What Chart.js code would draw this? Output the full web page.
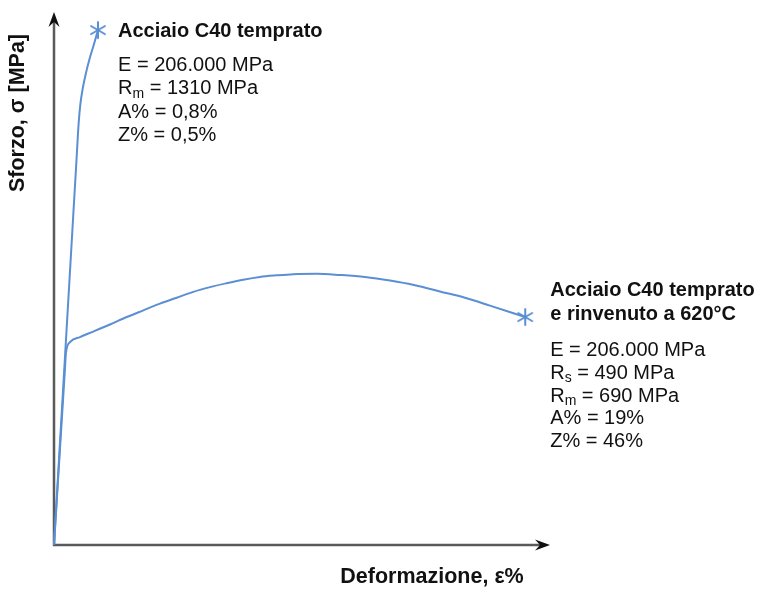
<!DOCTYPE html>
<html>
<head>
<meta charset="utf-8">
<script src="https://cdn.jsdelivr.net/npm/chart.js@4/dist/chart.umd.min.js"></script>
<style>
  html, body { margin: 0; padding: 0; background: #fff; }
  #c { display: block; }
</style>
</head>
<body>
<canvas id="c" width="761" height="589"></canvas>
<script>
// Stress-strain curves of C40 steel (schematic): strain in %, stress in MPa
const quenchedStrain = [0, 0.76, 0.9, 0.994, 1.068, 1.16, 1.282, 1.435, 1.593, 1.774];
const quenchedStress = [0, 821, 972, 1073, 1124, 1162, 1199, 1237, 1270, 1310];

const temperedStrain = [0, 0.44, 0.484, 0.645, 1.048, 1.585, 2.258, 2.931, 3.601, 4.274, 4.948, 5.617, 6.29, 6.964, 7.633, 8.306, 8.98, 9.649, 10.6, 11.53, 12.54, 13.55, 14.56, 15.56, 16.57, 17.58, 19];
const temperedStress = [0, 446, 490, 516, 529, 543, 561, 580, 597, 614, 629, 644, 656, 666, 675, 682, 686, 689, 690, 687, 682, 673, 661, 645, 629, 609, 580];

const quenchedTitle = ['Acciaio C40 temprato'];
const quenchedProps = [
  [['E = 206.000 MPa', '']],
  [['R', ''], ['m', 'sub'], [' = 1310 MPa', '']],
  [['A% = 0,8%', '']],
  [['Z% = 0,5%', '']]
];
const temperedTitle = ['Acciaio C40 temprato', 'e rinvenuto a 620°C'];
const temperedProps = [
  [['E = 206.000 MPa', '']],
  [['R', ''], ['s', 'sub'], [' = 490 MPa', '']],
  [['R', ''], ['m', 'sub'], [' = 690 MPa', '']],
  [['A% = 19%', '']],
  [['Z% = 46%', '']]
];
const xTitle = 'Deformazione, ε%';
const yTitle = 'Sforzo, σ [MPa]';

const BLUE = 'rgb(91,143,212)';
const FONT = '"Liberation Sans", Arial, Helvetica, sans-serif';

// six-spoke asterisk marker for the rupture points
function makeAsterisk(r, color) {
  const size = Math.ceil(r * 2 + 4);
  const cv = document.createElement('canvas');
  cv.width = size; cv.height = size;
  const g = cv.getContext('2d');
  g.strokeStyle = color; g.lineWidth = 2; g.lineCap = 'round';
  const c = size / 2;
  for (let k = 0; k < 3; k++) {
    const a = Math.PI / 2 + k * Math.PI / 3;
    g.beginPath();
    g.moveTo(c - r * Math.cos(a), c - r * Math.sin(a));
    g.lineTo(c + r * Math.cos(a), c + r * Math.sin(a));
    g.stroke();
  }
  return cv;
}
const star = makeAsterisk(8, BLUE);

function toPoints(xs, ys) { return xs.map((x, i) => ({ x: x, y: ys[i] })); }
function lastOnly(n) { return ctx => (ctx.dataIndex === n - 1 ? 10 : 0); }

function drawRich(ctx, parts, x, y) {
  let cx = x;
  parts.forEach(([txt, kind]) => {
    if (kind === 'sub') {
      ctx.font = '14px ' + FONT;
      ctx.fillText(txt, cx, y + 5);
    } else {
      ctx.font = '20px ' + FONT;
      ctx.fillText(txt, cx, y);
    }
    cx += ctx.measureText(txt).width;
  });
}

function arrow(ctx, x0, y0, x1, y1) {
  const ang = Math.atan2(y1 - y0, x1 - x0);
  const L = 15, W = 5.5, N = 10;
  const bx = x1 - N * Math.cos(ang), by = y1 - N * Math.sin(ang);
  ctx.save();
  ctx.strokeStyle = '#5a5a5a';
  ctx.lineWidth = 2.5;
  ctx.beginPath();
  ctx.moveTo(x0, y0);
  ctx.lineTo(bx, by);
  ctx.stroke();
  ctx.fillStyle = '#111';
  ctx.translate(x1, y1);
  ctx.rotate(ang);
  ctx.beginPath();
  ctx.moveTo(0, 0);
  ctx.lineTo(-L, -W);
  ctx.lineTo(-N, 0);
  ctx.lineTo(-L, W);
  ctx.closePath();
  ctx.fill();
  ctx.restore();
}

const decorations = {
  id: 'decorations',
  beforeDatasetsDraw(chart) {
    const ctx = chart.ctx, a = chart.chartArea;
    arrow(ctx, a.left, a.bottom + 1, a.left, a.top);
    arrow(ctx, a.left - 1, a.bottom, a.right, a.bottom);
  },
  afterDraw(chart) {
    const ctx = chart.ctx;
    const xs = chart.scales.x, ys = chart.scales.y;
    ctx.save();
    ctx.fillStyle = '#111';
    ctx.textBaseline = 'middle';
    ctx.textAlign = 'left';

    // quenched steel block
    let px = xs.getPixelForValue(quenchedStrain[quenchedStrain.length - 1]);
    let py = ys.getPixelForValue(quenchedStress[quenchedStress.length - 1]);
    ctx.font = 'bold 20px ' + FONT;
    ctx.fillText(quenchedTitle[0], px + 20, py + 1);
    quenchedProps.forEach((line, i) => drawRich(ctx, line, px + 20, py + 35.5 + i * 23.3));

    // quenched and tempered steel block
    px = xs.getPixelForValue(temperedStrain[temperedStrain.length - 1]);
    py = ys.getPixelForValue(temperedStress[temperedStress.length - 1]);
    ctx.font = 'bold 20px ' + FONT;
    temperedTitle.forEach((t, i) => ctx.fillText(t, px + 25, py - 27 + i * 24));
    temperedProps.forEach((line, i) => drawRich(ctx, line, px + 25, py + 33.5 + i * 22.8));

    // axis titles
    const a = chart.chartArea;
    ctx.font = 'bold 21.5px ' + FONT;
    ctx.textAlign = 'center';
    ctx.fillText(xTitle, 432, a.bottom + 32);
    ctx.translate(18, 113);
    ctx.rotate(-Math.PI / 2);
    ctx.fillText(yTitle, 0, 0);
    ctx.restore();
  }
};

new Chart(document.getElementById('c'), {
  type: 'line',
  data: {
    datasets: [
      {
        label: 'Acciaio C40 temprato',
        data: toPoints(quenchedStrain, quenchedStress),
        borderColor: BLUE, backgroundColor: BLUE, borderWidth: 2,
        cubicInterpolationMode: 'monotone', clip: false,
        pointStyle: star, pointRadius: lastOnly(quenchedStrain.length), pointHoverRadius: 0
      },
      {
        label: 'Acciaio C40 temprato e rinvenuto a 620°C',
        data: toPoints(temperedStrain, temperedStress),
        borderColor: BLUE, backgroundColor: BLUE, borderWidth: 2,
        cubicInterpolationMode: 'monotone', clip: false,
        pointStyle: star, pointRadius: lastOnly(temperedStrain.length), pointHoverRadius: 0
      }
    ]
  },
  options: {
    responsive: false,
    animation: false,
    events: [],
    layout: { padding: { left: 54, top: 8, right: 211, bottom: 44 } },
    plugins: { legend: { display: false }, tooltip: { enabled: false } },
    scales: {
      x: { type: 'linear', min: 0, max: 20, display: false },
      y: { type: 'linear', min: 0, max: 1356, display: false }
    }
  },
  plugins: [decorations]
});
</script>
</body>
</html>
